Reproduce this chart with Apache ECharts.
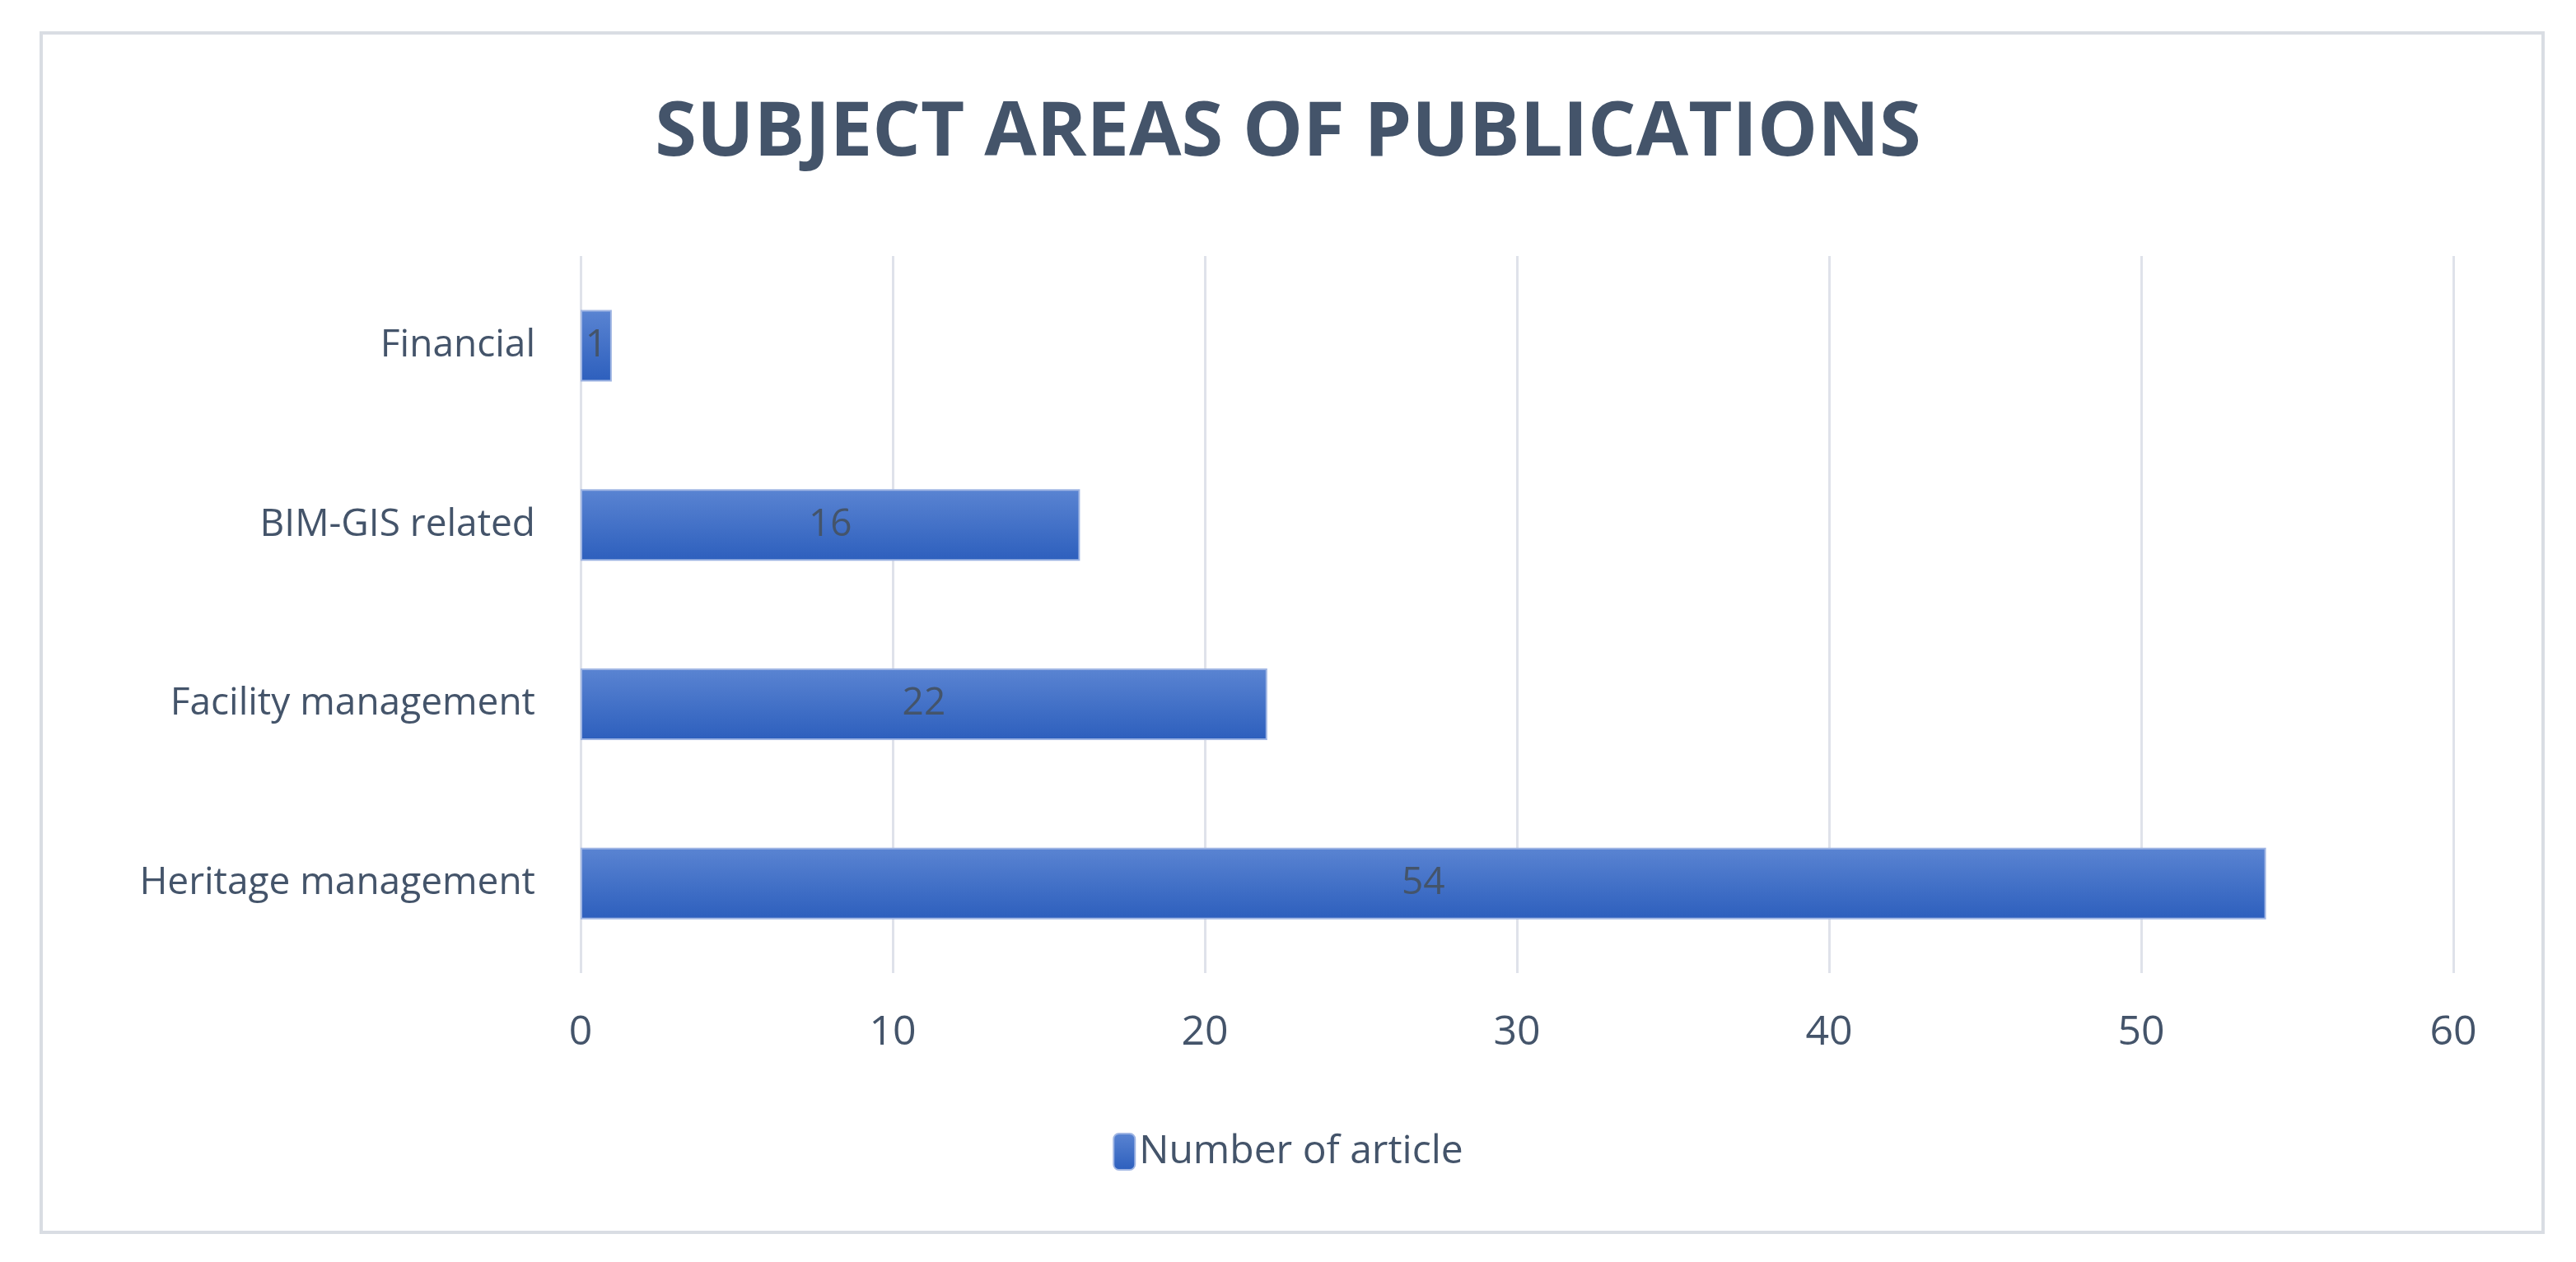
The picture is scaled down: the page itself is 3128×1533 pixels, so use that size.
<!DOCTYPE html>
<html>
<head>
<meta charset="utf-8">
<script src="https://cdn.jsdelivr.net/npm/echarts@6/dist/echarts.min.js"></script>
<style>html,body{margin:0;background:#fff}#c{width:3128px;height:1533px}</style>
</head>
<body>
<div id="c"></div>
<script>
const categories = ['Heritage management', 'Facility management', 'BIM-GIS related', 'Financial']
const articles = [54, 22, 16, 1]
const seriesName = 'Number of article'

const txt = '#44546a'
const chart = echarts.init(document.getElementById('c'))
chart.setOption({
  animation: false,
  title: {
    text: 'SUBJECT AREAS OF PUBLICATIONS',
    left: 'center',
    top: 112,
    textStyle: { color: txt, fontSize: 92, fontWeight: 'bold', fontFamily: 'Liberation Sans Narrow, Open Sans' }
  },
  graphic: [{
    type: 'rect',
    shape: { x: 50, y: 40, width: 3038, height: 1457 },
    style: { fill: 'none', stroke: '#d9dde3', lineWidth: 4 }
  }],
  legend: {
    bottom: 105,
    left: 'center',
    itemWidth: 26,
    itemHeight: 44,
    textStyle: { color: txt, fontSize: 48, fontFamily: 'Open Sans' },
    data: [seriesName]
  },
  grid: { left: 705, right: 149, top: 311, bottom: 351 },
  xAxis: {
    type: 'value',
    min: 0,
    max: 60,
    interval: 10,
    axisLine: { show: false },
    axisTick: { show: false },
    splitLine: { lineStyle: { color: '#dfe2ea', width: 3 } },
    axisLabel: { color: txt, fontSize: 50, margin: 48, fontFamily: 'Open Sans' }
  },
  yAxis: {
    type: 'category',
    data: categories,
    axisLine: { show: false },
    axisTick: { show: false },
    axisLabel: { color: txt, fontSize: 46, margin: 55, fontFamily: 'Open Sans' }
  },
  series: [{
    name: seriesName,
    type: 'bar',
    data: articles,
    barWidth: 87,
    itemStyle: {
      color: new echarts.graphic.LinearGradient(0, 0, 0, 1, [
        { offset: 0, color: '#5a84d2' },
        { offset: 1, color: '#2d5fbd' }
      ]),
      borderColor: '#9fb5e3',
      borderWidth: 2
    },
    label: { show: true, position: 'inside', color: txt, fontSize: 46, fontFamily: 'Open Sans' }
  }]
})
</script>
</body>
</html>
